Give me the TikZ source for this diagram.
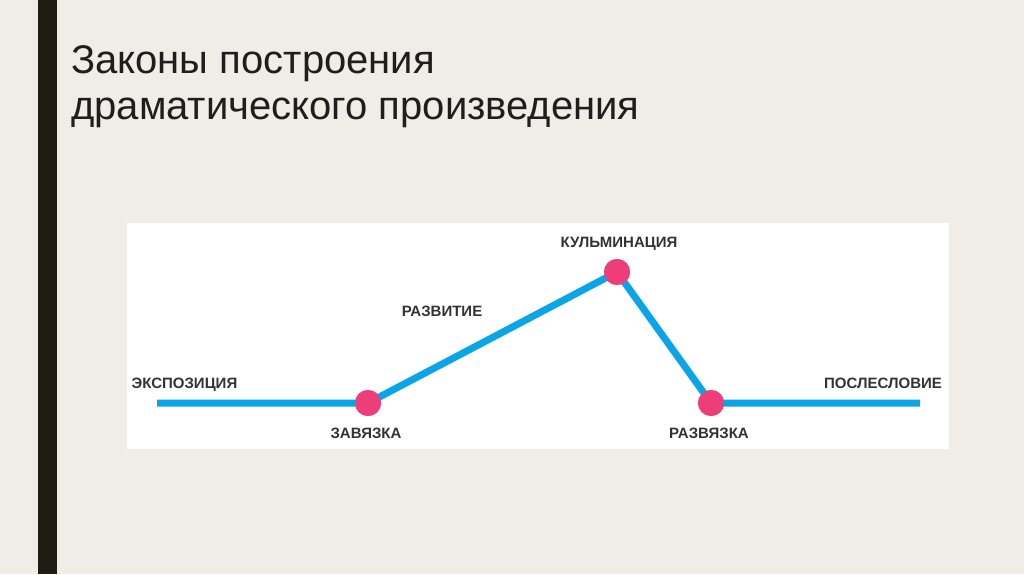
\documentclass[tikz,border=0pt]{standalone}
\usepackage{fontspec}
\setmainfont{Liberation Sans}
\definecolor{bgc}{HTML}{EFEDE6}
\definecolor{barc}{HTML}{1C1C10}
\definecolor{linec}{HTML}{0AA5E6}
\definecolor{dotc}{HTML}{EE3E7A}
\definecolor{txtc}{HTML}{1E1E1E}
\definecolor{lblc}{HTML}{333333}
\tikzset{
  dotnode/.style={circle, fill=dotc, inner sep=0pt, minimum size=26pt},
  lbl/.style={font=\fontsize{15}{18}\selectfont\bfseries, text=lblc, inner sep=0pt, anchor=base},
  plotline/.style={draw=linec, line width=7pt},
  titlefont/.style={font=\fontsize{40}{46}\selectfont, text=txtc, inner sep=0pt, anchor=base west}
}
\begin{document}
\begin{tikzpicture}[x=1pt,y=1pt]
\fill[bgc] (0,0) rectangle (1024,574);
\useasboundingbox (0,0) rectangle (1024,574);
\fill[barc] (38,0) rectangle (57,574);
\node[titlefont] (t1) at (71,500) {Законы построения};
\node[titlefont] (t2) at (71,454) {драматического произведения};
\fill[white] (127,125) rectangle (949,351);
\coordinate (start) at (157,171);
\coordinate (finish) at (920,171);
\node[dotnode] (zav) at (368,171) {};
\node[dotnode] (kul) at (617,302) {};
\node[dotnode] (raz) at (711,171) {};
\draw[plotline] (start) -- (zav.center) -- (kul.center) -- (raz.center) -- (finish);
\node[dotnode] at (zav) {};
\node[dotnode] at (kul) {};
\node[dotnode] at (raz) {};
\node[lbl] (lexp) at (184.5,186) {ЭКСПОЗИЦИЯ};
\node[lbl] (lzav) at (366,136) {ЗАВЯЗКА};
\node[lbl] (lrazv) at (442,258) {РАЗВИТИЕ};
\node[lbl] (lkul) at (619,327) {КУЛЬМИНАЦИЯ};
\node[lbl] (lraz) at (709,136) {РАЗВЯЗКА};
\node[lbl] (lpos) at (883,186) {ПОСЛЕСЛОВИЕ};
\end{tikzpicture}
\end{document}
